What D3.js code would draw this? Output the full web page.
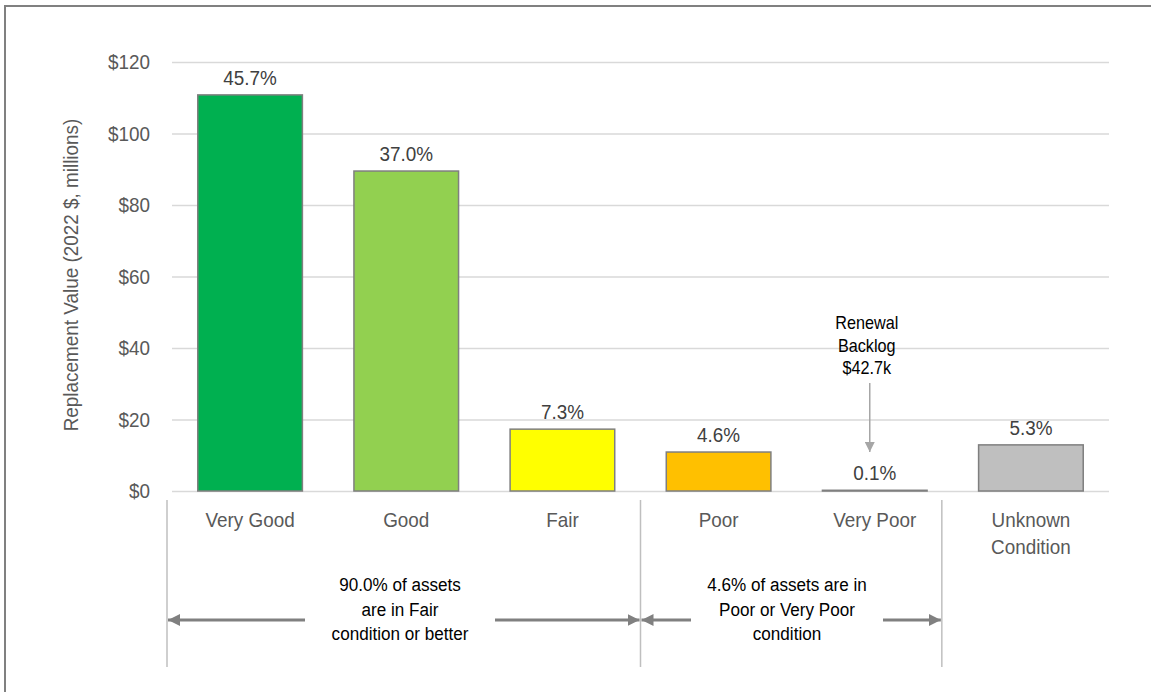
<!DOCTYPE html>
<html><head><meta charset="utf-8">
<script src="https://cdn.jsdelivr.net/npm/d3@7"></script>
<style>html,body{margin:0;padding:0;background:#fff;}svg{display:block;font-family:"Liberation Sans",Arial,sans-serif;}</style>
</head><body>
<svg id="chart" width="1151" height="692"></svg>
<script>
const categories = ["Very Good","Good","Fair","Poor","Very Poor","Unknown Condition"];
const values = [110.8, 89.5, 17.3, 10.9, 0.2, 12.9];
const pctLabels = ["45.7%","37.0%","7.3%","4.6%","0.1%","5.3%"];
const colors = ["#00B050","#92D050","#FFFF00","#FFC000","#A6A6A6","#BFBFBF"];
const yTicks = [0,20,40,60,80,100,120];
const yTitle = "Replacement Value (2022 $, millions)";
const groupNotes = [
  {from:"Very Good", to:"Fair", lines:["90.0% of assets","are in Fair","condition or better"]},
  {from:"Poor", to:"Very Poor", lines:["4.6% of assets are in","Poor or Very Poor","condition"]}
];
const backlogLines = ["Renewal","Backlog","$42.7k"];

const svg = d3.select("#chart");
const SX = 0.9;
function txt(g, x, y, s, size, fill, anchor){
  return g.append("text").attr("transform",`translate(${x},${y}) scale(${SX},1)`)
    .attr("text-anchor", anchor||"middle").attr("font-size", size).attr("fill", fill).text(s);
}

// frame (top & left)
svg.append("line").attr("x1",4).attr("x2",1151).attr("y1",6).attr("y2",6).attr("stroke","#808080").attr("stroke-width",2);
svg.append("line").attr("x1",5).attr("x2",5).attr("y1",5).attr("y2",692).attr("stroke","#808080").attr("stroke-width",2);

const x = d3.scaleBand().domain(categories).range([172,1109]).paddingInner(0.33).paddingOuter(0.165);
const y = d3.scaleLinear().domain([0,120]).range([491,62]);

// gridlines
const grid = svg.append("g").attr("transform","translate(172,0)")
  .call(d3.axisLeft(y).tickValues(yTicks).tickSize(-(1109-172)).tickFormat(""));
grid.select(".domain").remove();
grid.selectAll(".tick line").attr("stroke","#d9d9d9").attr("stroke-width",1.5);

// tick labels
const tl = svg.append("g");
yTicks.forEach(t => txt(tl, 150, y(t)+7, "$"+t, 21, "#595959", "end"));

// y title
svg.append("text").attr("transform",`translate(78,275) rotate(-90) scale(${SX},1)`)
  .attr("text-anchor","middle").attr("font-size",21).attr("fill","#595959").text(yTitle);

// bars
svg.append("g").selectAll("rect").data(categories).join("rect")
  .attr("x", d => x(d)).attr("width", x.bandwidth())
  .attr("y", (d,i) => y(values[i])).attr("height", (d,i) => y(0)-y(values[i]))
  .attr("fill", (d,i) => colors[i]).attr("stroke","#7f7f7f").attr("stroke-width",1.5);

// value labels
const vl = svg.append("g");
categories.forEach((c,i) => txt(vl, x(c)+x.bandwidth()/2, y(values[i])-10, pctLabels[i], 21, "#404040"));

// category labels
const cl = svg.append("g");
categories.forEach(c => {
  const words = c === "Unknown Condition" ? ["Unknown","Condition"] : [c];
  words.forEach((w,k) => txt(cl, x(c)+x.bandwidth()/2, 527 + k*27, w, 21, "#595959"));
});

// group separators
const half = (x.step()-x.bandwidth())/2;
const sepX = [x("Very Good") - half - 5,
              x("Poor") - half,
              x("Unknown Condition") - half - 11];
const sep = svg.append("g");
sepX.forEach(sx => sep.append("line").attr("x1",sx).attr("x2",sx).attr("y1",500).attr("y2",667)
  .attr("stroke","#bfbfbf").attr("stroke-width",1.5));

// arrows
const defs = svg.append("defs");
defs.append("marker").attr("id","ah").attr("viewBox","0 0 10 10").attr("refX",10).attr("refY",5)
  .attr("markerWidth",4).attr("markerHeight",4).attr("orient","auto-start-reverse")
  .append("path").attr("d","M0,0L10,5L0,10Z").attr("fill","#808080");
defs.append("marker").attr("id","ah2").attr("viewBox","0 0 10 10").attr("refX",10).attr("refY",5)
  .attr("markerWidth",7).attr("markerHeight",7).attr("orient","auto")
  .append("path").attr("d","M0,0L10,5L0,10Z").attr("fill","#a6a6a6");

const ar = svg.append("g");
const arrowY = 620;
const spans = [[sepX[0], sepX[1]], [sepX[1], sepX[2]]];
const gaps = [[305,495],[691,883]];
groupNotes.forEach((g,i) => {
  const [a,b] = spans[i];
  ar.append("line").attr("x1",gaps[i][0]).attr("x2",a+1).attr("y1",arrowY).attr("y2",arrowY)
    .attr("stroke","#808080").attr("stroke-width",3).attr("marker-end","url(#ah)");
  ar.append("line").attr("x1",gaps[i][1]).attr("x2",b-1).attr("y1",arrowY).attr("y2",arrowY)
    .attr("stroke","#808080").attr("stroke-width",3).attr("marker-end","url(#ah)");
  const cx = (gaps[i][0]+gaps[i][1])/2;
  g.lines.forEach((l,k) => txt(ar, cx, 591 + k*24.5, l, 19, "#000"));
});

// renewal backlog callout
const vpx = x("Very Poor") + x.bandwidth()/2 - 5;
const rb = svg.append("g");
backlogLines.forEach((l,k) => txt(rb, vpx-3, 329 + k*22.5, l, 18, "#000"));
rb.append("line").attr("x1",vpx).attr("x2",vpx).attr("y1",383).attr("y2",452)
  .attr("stroke","#a6a6a6").attr("stroke-width",1.5).attr("marker-end","url(#ah2)");
</script>
</body></html>
